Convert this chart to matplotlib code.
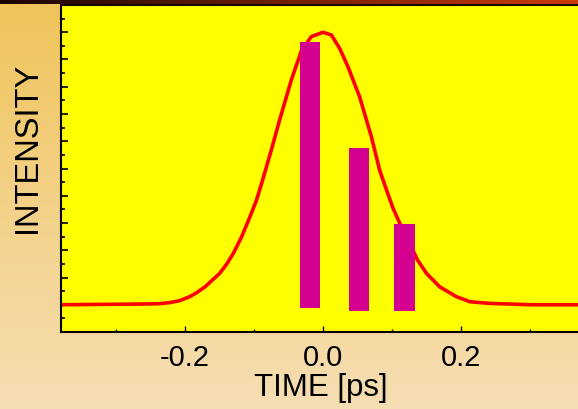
import numpy as np
import matplotlib
matplotlib.use('Agg')
import matplotlib.pyplot as plt
from matplotlib.ticker import MultipleLocator, NullFormatter

plt.rcParams['font.family'] = ['Liberation Sans', 'DejaVu Sans']
plt.rcParams['axes.unicode_minus'] = False

# pulse intensity profile
pulse_time = [-0.380, -0.251, -0.237, -0.222, -0.208, -0.193, -0.1835, -0.171,
              -0.162, -0.150, -0.140, -0.130, -0.118, -0.106, -0.0965, -0.089,
              -0.075, -0.063, -0.046, -0.031, -0.017, 0.000, 0.012, 0.024,
              0.036, 0.053, 0.070, 0.082, 0.092, 0.1015, 0.111, 0.1257,
              0.137, 0.150, 0.169, 0.193, 0.213, 0.2417, 0.300, 0.370]
pulse_intensity = [0.000, 0.003, 0.004, 0.008, 0.015, 0.030, 0.044, 0.066,
                   0.087, 0.115, 0.148, 0.189, 0.250, 0.323, 0.384, 0.446,
                   0.568, 0.678, 0.825, 0.935, 0.984, 1.000, 0.990, 0.941,
                   0.874, 0.763, 0.617, 0.494, 0.421, 0.354, 0.300, 0.2255,
                   0.164, 0.115, 0.066, 0.030, 0.011, 0.005, 0.000, 0.000]

# magenta bars
bar_time = [-0.019, 0.0525, 0.118]
bar_top = [0.965, 0.574, 0.295]
bar_bottom = [-0.012, -0.023, -0.023]
bar_width = 0.0295

W, H = 578, 409
fig = plt.figure(figsize=(W / 100, H / 100), dpi=100)

# background gradient
bg = fig.add_axes([0, 0, 1, 1], zorder=-10)
top_col = np.array([240, 196, 90]) / 255
bot_col = np.array([246, 222, 180]) / 255
t = np.linspace(0, 1, 256)[:, None]
grad = top_col * (1 - t) + bot_col * t
bg.imshow(grad[:, None, :].repeat(2, axis=1), aspect='auto', extent=[0, 1, 0, 1])
bg.set_axis_off()

# dark strip along the top
strip = fig.add_axes([0, 1 - 4.5 / H, 1, 4.5 / H], zorder=-5)
s = np.linspace(0, 1, 256)[None, :, None]
left_col = np.array([25, 5, 0]) / 255
right_col = np.array([205, 60, 10]) / 255
strip.imshow(left_col * (1 - s) + right_col * s, aspect='auto')
strip.set_axis_off()

ax = fig.add_axes([61 / W, 77 / H, 520 / W, 327 / H])
ax.set_facecolor('#ffff00')

ax.plot(pulse_time, pulse_intensity, color='#ff0000', lw=2.6, zorder=2)
ax.bar(bar_time, np.array(bar_top) - np.array(bar_bottom), width=bar_width,
       bottom=bar_bottom, color='#d4008f', zorder=3)

ax.set_xlim(-0.380, 0.374)
ax.set_ylim(-0.1, 1.1)

ax.xaxis.set_major_locator(MultipleLocator(0.2))
ax.xaxis.set_minor_locator(MultipleLocator(0.1))
ax.yaxis.set_major_locator(MultipleLocator(0.1))
ax.yaxis.set_minor_locator(MultipleLocator(0.05))
ax.yaxis.set_major_formatter(NullFormatter())
ax.xaxis.set_major_formatter(lambda v, p: f'{v:.1f}')

ax.tick_params(axis='x', which='major', direction='in', length=4.5, width=1.0,
               labelsize=21, pad=8.5)
ax.tick_params(axis='x', which='minor', direction='in', length=2.5, width=1.0)
ax.tick_params(axis='y', which='major', direction='in', length=5, width=1.2)
ax.tick_params(axis='y', which='minor', direction='in', length=3, width=1.2)

for side in ['left', 'bottom', 'top']:
    ax.spines[side].set_linewidth(1.5)
ax.spines['top'].set_color('#1a0800')
ax.spines['right'].set_visible(False)

ax.set_xlabel('TIME [ps]', fontsize=22.5, labelpad=1)
ax.text((28 - 61) / 520, (332 - 147.5) / 327, 'INTENSITY',
        transform=ax.transAxes, rotation=90, ha='center', va='center',
        fontsize=23.5)

fig.savefig('out.png', dpi=100)
